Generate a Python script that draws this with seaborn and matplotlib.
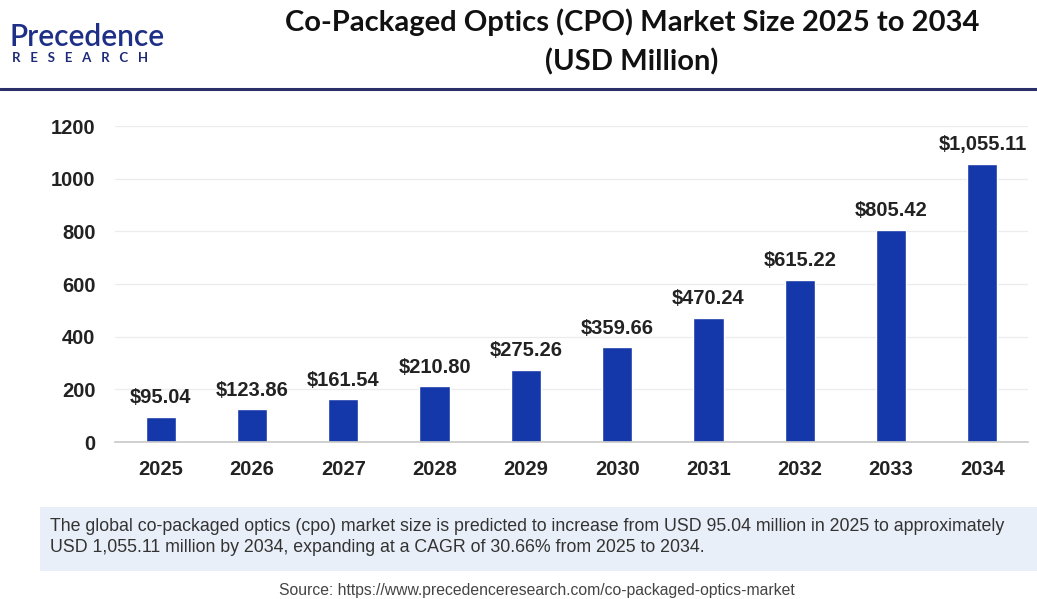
import matplotlib
matplotlib.use("Agg")
import matplotlib.pyplot as plt
import seaborn as sns
import pandas as pd
from matplotlib.patches import Rectangle
from matplotlib.lines import Line2D

years = ["2025", "2026", "2027", "2028", "2029", "2030", "2031", "2032", "2033", "2034"]
values = [95.04, 123.86, 161.54, 210.80, 275.26, 359.66, 470.24, 615.22, 805.42, 1055.11]
labels = ["$95.04", "$123.86", "$161.54", "$210.80", "$275.26", "$359.66",
          "$470.24", "$615.22", "$805.42", "$1,055.11"]
yticks = [0, 200, 400, 600, 800, 1000, 1200]

title = "Co-Packaged Optics (CPO) Market Size 2025 to 2034\n(USD Million)"
summary = ("The global co-packaged optics (cpo) market size is predicted to increase from USD 95.04 million in 2025 to approximately\n"
           "USD 1,055.11 million by 2034, expanding at a CAGR of 30.66% from 2025 to 2034.")
source = "Source: https://www.precedenceresearch.com/co-packaged-optics-market"

sns.set_theme(style="white")
plt.rcParams['font.family'] = ['Liberation Sans', 'DejaVu Sans']

W, H = 1037, 599
fig = plt.figure(figsize=(W / 100, H / 100), dpi=100)

def fx(px):
    return px / W

def fy(py):
    return 1 - py / H

ax = fig.add_axes([fx(115), fy(442), fx(1028 - 115), fy(126) - fy(442)])
df = pd.DataFrame({"year": years, "value": values})
sns.barplot(data=df, x="year", y="value", color="#1437A9", width=0.33,
            saturation=1, ax=ax)

ax.set_ylim(0, 1200)
ax.set_xlim(-0.5, 9.5)
ax.set_yticks(yticks)
ax.set_yticklabels([str(t) for t in yticks], fontsize=14.5, fontweight="bold", color="#222222")
ax.set_xticklabels(years, fontsize=14.5, fontweight="bold", color="#222222")
ax.set_xlabel("")
ax.set_ylabel("")
ax.tick_params(axis="x", length=0, pad=13)
ax.tick_params(axis="y", length=0, pad=14)
ax.grid(axis="y", color="#ececec", linewidth=0.9)
ax.set_axisbelow(True)
for s in ["top", "right", "left"]:
    ax.spines[s].set_visible(False)
ax.spines["bottom"].set_color("#c8c8c8")
ax.spines["bottom"].set_linewidth(1.2)

for i, (v, lab) in enumerate(zip(values, labels)):
    ax.annotate(lab, (i, v), xytext=(0, 7), textcoords="offset points",
                ha="center", va="bottom", fontsize=14.5, fontweight="bold",
                color="#222222", annotation_clip=False)

# Header
fig.text(fx(632), fy(42), title, ha="center", va="center", fontsize=21,
         fontweight="bold", family=["Lato", "DejaVu Sans"], color="#111111",
         linespacing=1.55)
fig.add_artist(Line2D([0, 1], [fy(89), fy(89)], color="#2a2f6a", linewidth=2.2))

# Logo
fig.text(fx(9), fy(37), "Precedence", ha="left", va="center", fontsize=21.5,
         fontweight="semibold", family=["Lato", "DejaVu Sans"], color="#1d2f86")
fig.text(fx(12), fy(58), "R   E   S   E   A   R   C   H", ha="left", va="center", fontsize=9.5,
         fontweight="bold", family=["Lato", "DejaVu Sans"], color="#1d2a78")

# Summary box
fig.add_artist(Rectangle((fx(40), fy(571)), fx(1037 - 40), fy(507) - fy(571),
                         facecolor="#e9eff8", edgecolor="none", zorder=0))
fig.text(fx(50), fy(537), summary, ha="left", va="center", fontsize=12.8,
         family=["Liberation Sans Narrow", "Liberation Sans", "DejaVu Sans"],
         color="#333333", linespacing=1.35)

fig.text(fx(537), fy(591), source, ha="center", va="center", fontsize=11.3,
         family=["Liberation Sans Narrow", "Liberation Sans", "DejaVu Sans"],
         color="#444444")

fig.savefig("out.png", dpi=100)
